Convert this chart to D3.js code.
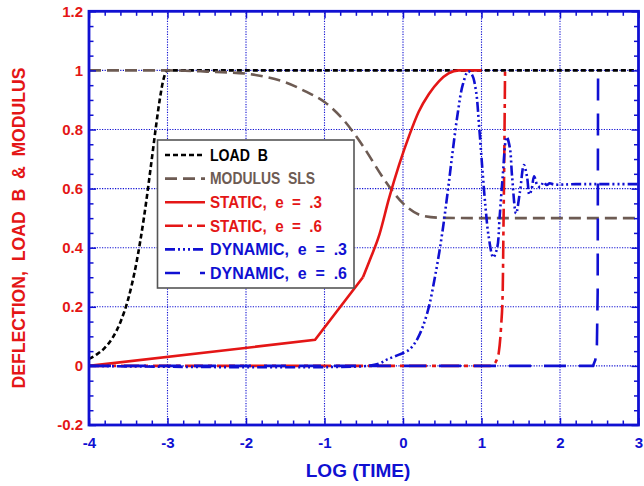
<!DOCTYPE html>
<html><head><meta charset="utf-8">
<script src="https://cdn.jsdelivr.net/npm/d3@7"></script>
<style>
html,body{margin:0;padding:0;background:#fff;}
svg{display:block;font-family:"Liberation Sans",Arial,sans-serif;font-weight:bold;}
text{white-space:pre;}
</style></head><body>
<svg id="chart" width="644" height="486"></svg>
<script>
// ---- data ----
const xTickValues = [-4, -3, -2, -1, 0, 1, 2, 3];
const xTickLabels = ["-4", "-3", "-2", "-1", "0", "1", "2", "3"];
const yTickValues = [-0.2, 0, 0.2, 0.4, 0.6, 0.8, 1, 1.2];
const yTickLabels = ["-0.2", "0", "0.2", "0.4", "0.6", "0.8", "1", "1.2"];

const loadB = [[-4,0.024],[-3.9,0.039],[-3.8,0.061],[-3.7,0.095],[-3.6,0.148],[-3.5,0.227],[-3.4,0.343],
  [-3.3,0.502],[-3.2,0.700],[-3.15,0.804],[-3.1,0.899],[-3.05,0.971],[-3,1],[3,1]];
const modulusSLS = [[-4,1],[-3,1],[-2.5,0.996],[-2,0.989],[-1.75,0.978],[-1.5,0.96],[-1.25,0.93],[-1,0.893],
  [-0.75,0.83],[-0.5,0.74],[-0.25,0.635],[0,0.55],[0.25,0.508],[0.5,0.501],[1,0.5],[3,0.5]];
const staticE3Ramp = [[-4,0],[-1.12,0.088],[-0.51,0.30]];
const staticE3Rise = [[-0.51,0.30],[-0.42,0.36],[-0.3,0.445],[-0.18,0.565],[-0.05,0.68],
  [0.08,0.78],[0.2,0.86],[0.33,0.92],[0.46,0.964],[0.58,0.99],[0.71,1.0],[1.0,1.0]];
const staticE6 = [[-4,0],[1.1,0],[1.155,0.005],[1.2,0.025],[1.22,0.045],[1.25,0.135],[1.27,0.25],
  [1.28,0.47],[1.29,0.70],[1.30,1.0]];
const dynamicE3 = [[-4,0],[-0.45,0],[-0.3,0.008],[-0.2,0.022],[-0.05,0.038],[0.08,0.055],[0.19,0.095],
  [0.31,0.18],[0.42,0.32],[0.5,0.45],[0.57,0.59],[0.63,0.72],[0.7,0.86],[0.76,0.95],[0.83,0.997],
  [0.88,0.985],[0.93,0.93],[0.97,0.81],[1.01,0.67],[1.05,0.54],[1.09,0.44],[1.15,0.367],[1.2,0.40],
  [1.23,0.50],[1.27,0.64],[1.32,0.775],[1.36,0.74],[1.39,0.64],[1.44,0.516],[1.49,0.59],[1.54,0.68],
  [1.58,0.64],[1.61,0.58],[1.64,0.60],[1.67,0.642],[1.71,0.612],[1.75,0.605],[1.79,0.622],[1.83,0.612],
  [1.87,0.618],[1.92,0.614],[2.2,0.615],[3,0.615]];
const dynamicE6 = [[-4,0],[2.42,0],[2.45,0.02],[2.47,0.07],[2.48,0.25],[2.485,1.0]];

const seriesNames = ["LOAD  B", "MODULUS  SLS", "STATIC,  e  =  .3", "STATIC,  e  =  .6", "DYNAMIC,  e  =  .3", "DYNAMIC,  e  =  .6"];

// ---- layout ----
const W = 644, H = 486;
const M = {left: 89, right: 5.5, top: 11.3, bottom: 61};
const RED = "#e41616", BLUE = "#1010d2", BROWN = "#6d5b53";

const svg = d3.select("#chart");
const x = d3.scaleLinear().domain([-4, 3]).range([M.left, W - M.right]);
const y = d3.scaleLinear().domain([-0.2, 1.2]).range([H - M.bottom, M.top]);

// grid
const g = svg.append("g");
g.selectAll("line.gx").data(xTickValues.slice(1, -1)).join("line")
  .attr("x1", d => x(d)).attr("x2", d => x(d)).attr("y1", y(-0.2)).attr("y2", y(1.2))
  .attr("stroke", BLUE).attr("stroke-width", 1.1).attr("stroke-dasharray", "1.2,1.4");
g.selectAll("line.gy").data(yTickValues.slice(1, -1)).join("line")
  .attr("y1", d => y(d)).attr("y2", d => y(d)).attr("x1", x(-4)).attr("x2", x(3))
  .attr("stroke", BLUE).attr("stroke-width", 1.1).attr("stroke-dasharray", "1.2,1.4");

// series
const line = d3.line().x(d => x(d[0])).y(d => y(d[1]));
const mono = d3.line().x(d => x(d[0])).y(d => y(d[1])).curve(d3.curveMonotoneX);
const smooth = d3.line().x(d => x(d[0])).y(d => y(d[1])).curve(d3.curveCatmullRom.alpha(0.5));
const series = [
  {parts: [loadB], color: "#000", dash: "5,3", gen: mono},
  {parts: [modulusSLS], color: BROWN, dash: "12,6", gen: mono},
  {parts: [staticE3Ramp], color: RED, dash: null, gen: line},
  {parts: [staticE3Rise], color: RED, dash: null, gen: mono},
  {parts: [staticE6], color: RED, dash: "18,5,4,5", gen: mono},
  {parts: [dynamicE3], color: BLUE, dash: "10,3,2,3,2,3,2,3", gen: smooth},
  {parts: [dynamicE6], color: BLUE, dash: "22,13", gen: line}
];
const plot = svg.append("g");
series.forEach(s => {
  s.parts.forEach(p => {
    plot.append("path").datum(p).attr("d", s.gen)
      .attr("fill", "none").attr("stroke", s.color).attr("stroke-width", 2.6)
      .attr("stroke-dasharray", s.dash);
  });
});

// axes (ticks inward)
const xMinor = d3.range(-4, 3.001, 0.2).filter(v => Math.abs(v - Math.round(v)) > 1e-6);
const yMinor = d3.range(-0.2, 1.2001, 0.05).filter(v => Math.abs(v * 5 - Math.round(v * 5)) > 1e-6);
function styleAxis(sel) {
  sel.select(".domain").remove();
  sel.selectAll("line").attr("stroke", BLUE).attr("stroke-width", 1.5);
}
const bottom = svg.append("g").attr("transform", `translate(0,${y(-0.2)})`);
bottom.call(d3.axisBottom(x).tickValues(xTickValues).tickSize(-7).tickPadding(12)
  .tickFormat((d, i) => xTickLabels[i])).call(styleAxis);
bottom.selectAll("text").attr("fill", BLUE).style("font-size", "15px").style("font-family", "Liberation Sans").style("font-weight", "bold");
svg.append("g").attr("transform", `translate(0,${y(-0.2)})`)
  .call(d3.axisBottom(x).tickValues(xMinor).tickSize(-4.5).tickFormat("")).call(styleAxis);
svg.append("g").attr("transform", `translate(0,${y(1.2)})`)
  .call(d3.axisTop(x).tickValues(xTickValues).tickSize(-7).tickFormat("")).call(styleAxis);
svg.append("g").attr("transform", `translate(0,${y(1.2)})`)
  .call(d3.axisTop(x).tickValues(xMinor).tickSize(-4.5).tickFormat("")).call(styleAxis);

const left = svg.append("g").attr("transform", `translate(${x(-4)},0)`);
left.call(d3.axisLeft(y).tickValues(yTickValues).tickSize(-7).tickPadding(6)
  .tickFormat((d, i) => yTickLabels[i])).call(styleAxis);
left.selectAll("text").attr("fill", RED).style("font-size", "15px").style("font-family", "Liberation Sans").style("font-weight", "bold");
svg.append("g").attr("transform", `translate(${x(-4)},0)`)
  .call(d3.axisLeft(y).tickValues(yMinor).tickSize(-4.5).tickFormat("")).call(styleAxis);
svg.append("g").attr("transform", `translate(${x(3)},0)`)
  .call(d3.axisRight(y).tickValues(yTickValues).tickSize(-7).tickFormat("")).call(styleAxis);
svg.append("g").attr("transform", `translate(${x(3)},0)`)
  .call(d3.axisRight(y).tickValues(yMinor).tickSize(-4.5).tickFormat("")).call(styleAxis);

// frame
svg.append("rect").attr("x", x(-4)).attr("y", y(1.2)).attr("width", x(3) - x(-4)).attr("height", y(-0.2) - y(1.2))
  .attr("fill", "none").attr("stroke", BLUE).attr("stroke-width", 2.8);

// axis titles
svg.append("text").attr("x", 358).attr("y", 477).attr("text-anchor", "middle")
  .attr("fill", BLUE).style("font-size", "19px").text("LOG (TIME)");
svg.append("text").attr("transform", "translate(25,228) rotate(-90)").attr("text-anchor", "middle")
  .attr("fill", RED).style("font-size", "18.5px").attr("textLength", 321).attr("lengthAdjust", "spacingAndGlyphs")
  .text("DEFLECTION,  LOAD  B  &  MODULUS");

// legend
const lg = svg.append("g");
lg.append("rect").attr("x", 157.5).attr("y", 140).attr("width", 196.5).attr("height", 148)
  .attr("fill", "#fff").attr("stroke", "#555").attr("stroke-width", 1.6);
const legendColors = ["#000", BROWN, RED, RED, BLUE, BLUE];
const legendDash = ["5,3", "12,6", null, "18,5,4,5", "10,3,2,3,2,3,2,3", "15,20"];
const legendWidths = [58, 105, 112, 112, 137, 137];
seriesNames.forEach((name, i) => {
  const cy = 155 + i * 23.6;
  lg.append("line").attr("x1", 165).attr("x2", 205).attr("y1", cy).attr("y2", cy)
    .attr("stroke", legendColors[i]).attr("stroke-width", 2.6).attr("stroke-dasharray", legendDash[i]);
  lg.append("text").attr("x", 210).attr("y", cy).attr("dy", "0.36em")
    .attr("fill", legendColors[i]).style("font-size", "16px")
    .attr("textLength", legendWidths[i]).attr("lengthAdjust", "spacingAndGlyphs").text(name);
});
</script>
</body></html>
